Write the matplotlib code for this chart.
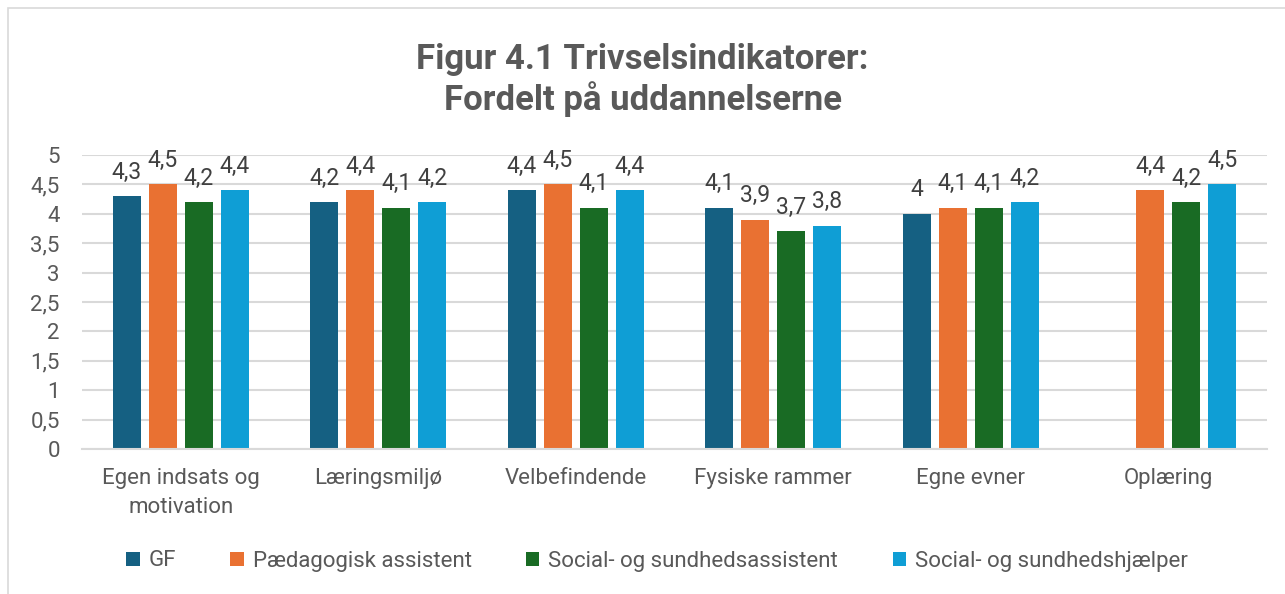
import matplotlib
matplotlib.use("Agg")
import matplotlib.pyplot as plt
import numpy as np
from matplotlib.patches import Rectangle

categories = ["Egen indsats og\nmotivation", "Læringsmiljø", "Velbefindende",
              "Fysiske rammer", "Egne evner", "Oplæring"]
series_names = ["GF", "Pædagogisk assistent", "Social- og sundhedsassistent",
                "Social- og sundhedshjælper"]
gf = [4.3, 4.2, 4.4, 4.1, 4.0, np.nan]
paed = [4.5, 4.4, 4.5, 3.9, 4.1, 4.4]
sosu_assist = [4.2, 4.1, 4.1, 3.7, 4.1, 4.2]
sosu_hjaelper = [4.4, 4.2, 4.4, 3.8, 4.2, 4.5]
yticks = [0, 0.5, 1, 1.5, 2, 2.5, 3, 3.5, 4, 4.5, 5]
title = "Figur 4.1 Trivselsindikatorer:\nFordelt på uddannelserne"

colors = ["#156082", "#E97132", "#196B24", "#0F9ED5"]
text_color = "#595959"
grid_color = "#D9D9D9"

plt.rcParams['font.family'] = ['Roboto', 'DejaVu Sans']

fig = plt.figure(figsize=(12.85, 5.94), dpi=100)
fig.patches.append(Rectangle((8/1285, -0.1), 1.2, 1 - 8/594 + 0.1, transform=fig.transFigure,
                             fill=False, edgecolor=grid_color, linewidth=1.2))
ax = fig.add_axes([82/1285, 1 - 449/594, 1185/1285, 294/594])

x = np.arange(len(categories))
width = 0.142
pitch = 0.182
all_series = [gf, paed, sosu_assist, sosu_hjaelper]
for i, (vals, name, c) in enumerate(zip(all_series, series_names, colors)):
    offs = (i - 1.5) * pitch
    bars = ax.bar(x + offs, vals, width, color=c, label=name, zorder=3)
    labels = []
    for v in vals:
        if np.isnan(v):
            labels.append("")
        else:
            s = ("%g" % v).replace(".", ",")
            labels.append(s)
    ax.bar_label(bars, labels=labels, padding=9, fontsize=16.5, color="#404040")

ax.set_xlim(-0.5, len(categories) - 0.5)
ax.set_ylim(0, 5)
ax.set_yticks(yticks)
ax.set_yticklabels([("%g" % t).replace(".", ",") for t in yticks])
ax.set_xticks(x)
ax.set_xticklabels(categories, linespacing=1.45)
ax.tick_params(axis='both', length=0, labelsize=16, labelcolor=text_color)
ax.tick_params(axis='y', pad=16)
ax.tick_params(axis='x', pad=14)
ax.grid(axis='y', color=grid_color, linewidth=1.5, zorder=0)
for sp in ['top', 'right', 'left']:
    ax.spines[sp].set_visible(False)
ax.spines['bottom'].set_color(grid_color)
ax.spines['bottom'].set_linewidth(1.5)
ax.spines['bottom'].set_zorder(4)

fig.text(0.5, 1 - 80/594, title, ha='center', va='center', fontsize=25,
         fontweight='bold', color=text_color, linespacing=1.2)

leg = fig.legend(loc='center', bbox_to_anchor=(657/1285, 1 - 561/594), ncol=4,
                 frameon=False, fontsize=16, handlelength=0.6, handleheight=0.6,
                 handletextpad=0.4, columnspacing=2.45)
for t in leg.get_texts():
    t.set_color(text_color)

fig.savefig("out.png", dpi=100)
